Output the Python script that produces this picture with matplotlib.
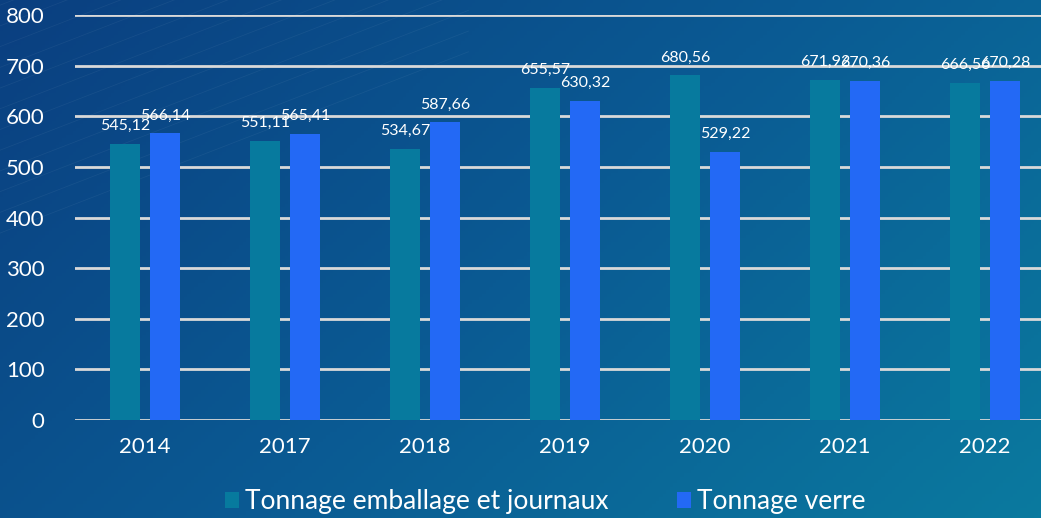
import numpy as np
import matplotlib.pyplot as plt
from matplotlib.colors import LinearSegmentedColormap

years = ["2014", "2017", "2018", "2019", "2020", "2021", "2022"]
emballage = [545.12, 551.11, 534.67, 655.57, 680.56, 671.92, 666.56]
verre = [566.14, 565.41, 587.66, 630.32, 529.22, 670.36, 670.28]
series_names = ["Tonnage emballage et journaux", "Tonnage verre"]

plt.rcParams["font.family"] = ["Lato", "DejaVu Sans"]

fig = plt.figure(figsize=(10.41, 5.18), dpi=100)

# gradient background
bg = fig.add_axes([0, 0, 1, 1], zorder=-10)
gx, gy = np.meshgrid(np.linspace(0, 1, 300), np.linspace(0, 1, 150))
grad = 0.65 * gx + 0.35 * gy
cmap = LinearSegmentedColormap.from_list("bg", ["#0A3F80", "#0A5A93", "#0A7A9F"])
bg.imshow(grad, cmap=cmap, aspect="auto", extent=[0, 1, 0, 1], origin="upper")
# faint streaks top-left
for k in range(14):
    y0 = 0.55 + k * 0.04
    bg.plot([0, 0.45], [y0, y0 + 0.35], color="white", alpha=0.05, lw=0.6)
bg.set_xlim(0, 1)
bg.set_ylim(0, 1)
bg.axis("off")

ax = fig.add_axes([75 / 1041, 98 / 518, 980 / 1041, 405 / 518])
ax.patch.set_alpha(0)

x = np.arange(len(years))
w = 0.22
off = 0.143
b1 = ax.bar(x - off, emballage, w, color="#077A9E", label=series_names[0], zorder=3)
b2 = ax.bar(x + off, verre, w, color="#2369F5", label=series_names[1], zorder=3)

for bars, vals in [(b1, emballage), (b2, verre)]:
    for r, v in zip(bars, vals):
        ax.annotate(f"{v:.2f}".replace(".", ","), (r.get_x() + r.get_width() / 2, v),
                    xytext=(0, 18), textcoords="offset pixels", ha="center", va="center",
                    color="white", fontsize=11.5, zorder=5)

ax.set_xlim(-0.5, len(years) - 0.5)
ax.set_ylim(0, 800)
ax.set_yticks(range(0, 801, 100))
ax.set_xticks(x)
ax.set_xticklabels(years)
ax.yaxis.grid(True, color="#D9D9D9", lw=2, zorder=1)
ax.set_axisbelow(True)
for s in ax.spines.values():
    s.set_visible(False)
ax.tick_params(axis="both", length=0, colors="white", labelsize=16)
ax.tick_params(axis="y", pad=22)
ax.tick_params(axis="x", pad=12)
for lbl in ax.get_yticklabels():
    lbl.set_horizontalalignment("right")

fig.legend(handles=[b1, b2], loc="center", bbox_to_anchor=(545 / 1041, 1 - 502 / 518),
           ncol=2, frameon=False, fontsize=19, labelcolor="white",
           handlelength=0.55, handleheight=0.55, handletextpad=0.2, columnspacing=2.6)

fig.savefig("out.png", dpi=100)
